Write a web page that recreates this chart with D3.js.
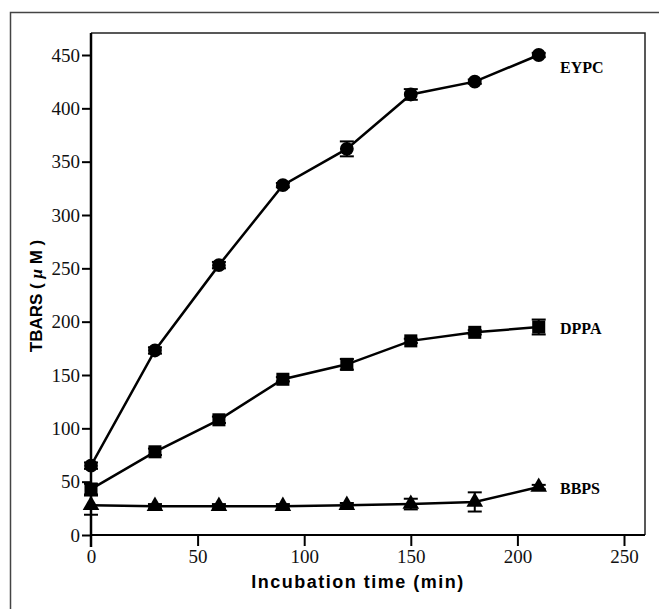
<!DOCTYPE html>
<html lang="en">
  <head>
    <meta charset="UTF-8" />
    <title>TBARS</title>
    <style>
      * {
        margin: 0;
        padding: 0;
      }
      body {
        background: #fff;
      }
    </style>
  </head>
  <body>
    <script src="https://cdn.jsdelivr.net/npm/d3@7"></script>
    <script>
      const times = [0, 30, 60, 90, 120, 150, 180, 210]
      const eypc = [65, 173, 253, 328, 362, 413, 425, 450]
      const eypcErr = [3, 3, 3, 2, 7, 5, 2, 2]
      const dppa = [43, 78, 108, 146, 160, 182, 190, 195]
      const dppaErr = [5, 3, 3, 2, 5, 2, 2, 7]
      const bbps = [28, 27, 27, 27, 28, 29, 31, 45]
      const bbpsErr = [9, 2, 2, 2, 2, 5, 9, 2]
      const xTicks = [0, 50, 100, 150, 200, 250]
      const yTicks = [0, 50, 100, 150, 200, 250, 300, 350, 400, 450]

      const series = [
        { name: 'EYPC', values: eypc, err: eypcErr, shape: d3.symbolCircle, size: 150 },
        { name: 'DPPA', values: dppa, err: dppaErr, shape: d3.symbolSquare, size: 170 },
        { name: 'BBPS', values: bbps, err: bbpsErr, shape: d3.symbolTriangle, size: 120 }
      ]

      const W = 659
      const H = 609
      const plot = { left: 91, right: 645, top: 33, bottom: 535 }

      const svg = d3
        .select('body')
        .append('svg')
        .attr('width', W)
        .attr('height', H)

      // outer frame (left + top only visible)
      svg
        .append('path')
        .attr('d', `M10.5,${H} L10.5,12.5 L${W},12.5`)
        .attr('fill', 'none')
        .attr('stroke', '#444')
        .attr('stroke-width', 1.5)

      const x = d3.scaleLinear().domain([0, 250]).range([plot.left, 624])
      const y = d3.scaleLinear().domain([0, 450]).range([plot.bottom, 55])

      // top and right frame of plot
      svg
        .append('path')
        .attr('d', `M${plot.left},${plot.top} L${plot.right},${plot.top} L${plot.right},${plot.bottom}`)
        .attr('fill', 'none')
        .attr('stroke', '#222')
        .attr('stroke-width', 1.5)

      const yAxis = svg
        .append('g')
        .attr('transform', `translate(${plot.left},0)`)
        .call(d3.axisLeft(y).tickValues(yTicks).tickSize(9).tickPadding(2).tickFormat(d3.format('d')))
      yAxis.select('.domain').attr('d', `M0,${plot.top}V${plot.bottom + 12}`).attr('stroke-width', 2.5)

      const xAxis = svg
        .append('g')
        .attr('transform', `translate(0,${plot.bottom})`)
        .call(d3.axisBottom(x).tickValues(xTicks).tickSize(11).tickPadding(4).tickFormat(d3.format('d')))
      xAxis.select('.domain').attr('d', `M${plot.left},0H${plot.right}`).attr('stroke-width', 2)

      svg
        .selectAll('.tick line')
        .attr('stroke', '#000')
        .attr('stroke-width', 2)
      svg
        .selectAll('.tick text')
        .attr('font-family', '"Liberation Serif", "Times New Roman", serif')
        .attr('font-size', 19)
        .attr('fill', '#111')
      xAxis.selectAll('.tick').filter((d) => d === 0).select('line').remove()

      const line = d3
        .line()
        .x((d, i) => x(times[i]))
        .y((d) => y(d))

      series.forEach((s) => {
        const g = svg.append('g')
        g.append('path')
          .datum(s.values)
          .attr('d', line)
          .attr('fill', 'none')
          .attr('stroke', '#000')
          .attr('stroke-width', 2.5)

        // error bars
        const eb = g
          .selectAll('.eb')
          .data(s.values)
          .join('g')
        eb.append('line')
          .attr('x1', (d, i) => x(times[i]))
          .attr('x2', (d, i) => x(times[i]))
          .attr('y1', (d, i) => y(d - s.err[i]))
          .attr('y2', (d, i) => y(d + s.err[i]))
          .attr('stroke', '#000')
          .attr('stroke-width', 2)
        ;[-1, 1].forEach((sign) => {
          eb.append('line')
            .attr('x1', (d, i) => x(times[i]) - 7)
            .attr('x2', (d, i) => x(times[i]) + 7)
            .attr('y1', (d, i) => y(d + sign * s.err[i]))
            .attr('y2', (d, i) => y(d + sign * s.err[i]))
            .attr('stroke', '#000')
            .attr('stroke-width', 2)
        })

        g.selectAll('.m')
          .data(s.values)
          .join('path')
          .attr('transform', (d, i) => `translate(${x(times[i])},${y(d)})`)
          .attr('d', d3.symbol().type(s.shape).size(s.size))
          .attr('fill', '#000')

        g.append('text')
          .attr('x', 560)
          .attr('y', y(s.values[s.values.length - 1]) + (s.name === 'EYPC' ? 18 : 7))
          .attr('font-family', '"Liberation Serif", "Times New Roman", serif')
          .attr('font-weight', 'bold')
          .attr('font-size', 16)
          .text(s.name)
      })

      const yTitle = svg
        .append('text')
        .attr('transform', `translate(42,${(plot.top + plot.bottom) / 2 + 12}) rotate(-90)`)
        .attr('text-anchor', 'middle')
        .attr('font-family', '"Liberation Sans", Arial, sans-serif')
        .attr('font-weight', 'bold')
        .attr('font-size', 17)
      yTitle.append('tspan').text('TBARS ( ')
      yTitle.append('tspan').attr('font-style', 'italic').attr('font-family', '"Liberation Serif", serif').text('μ')
      yTitle.append('tspan').text(' M )')

      svg
        .append('text')
        .attr('x', 358)
        .attr('y', 588)
        .attr('text-anchor', 'middle')
        .attr('font-family', '"Liberation Sans", Arial, sans-serif')
        .attr('font-weight', 'bold')
        .attr('font-size', 18)
        .attr('letter-spacing', 1.5)
        .text('Incubation time (min)')
    </script>
  </body>
</html>
